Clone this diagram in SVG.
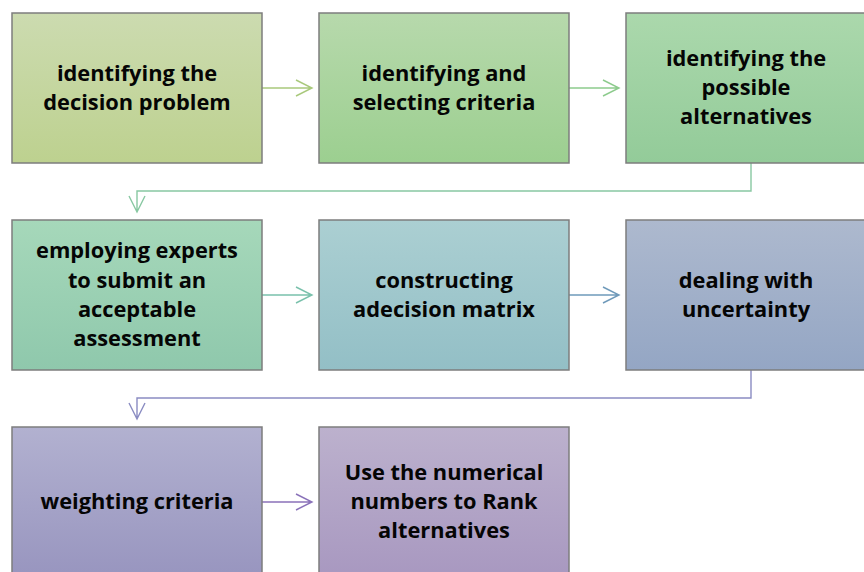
<svg xmlns="http://www.w3.org/2000/svg" width="864" height="572" viewBox="0 0 864 572">
<style>
.box{stroke:#7d7d7d;stroke-width:1.5}
.t{font-family:"Open Sans","Liberation Sans",sans-serif;font-weight:bold;font-size:21.8px;fill:#050505;text-anchor:middle}
.c{fill:none;stroke-width:1.4}
</style>
<defs>
<linearGradient id="g1" x1="0" y1="0" x2="0" y2="1"><stop offset="0" stop-color="#ccdbb0"/><stop offset="1" stop-color="#bdd18f"/></linearGradient>
<linearGradient id="g2" x1="0" y1="0" x2="0" y2="1"><stop offset="0" stop-color="#b7d9ac"/><stop offset="1" stop-color="#9ccf90"/></linearGradient>
<linearGradient id="g3" x1="0" y1="0" x2="0" y2="1"><stop offset="0" stop-color="#abd8ac"/><stop offset="1" stop-color="#93cb99"/></linearGradient>
<linearGradient id="g4" x1="0" y1="0" x2="0" y2="1"><stop offset="0" stop-color="#a6d8ba"/><stop offset="1" stop-color="#8fc8ac"/></linearGradient>
<linearGradient id="g5" x1="0" y1="0" x2="0" y2="1"><stop offset="0" stop-color="#abcfd2"/><stop offset="1" stop-color="#93bfc6"/></linearGradient>
<linearGradient id="g6" x1="0" y1="0" x2="0" y2="1"><stop offset="0" stop-color="#adb9ce"/><stop offset="1" stop-color="#94a6c4"/></linearGradient>
<linearGradient id="g7" x1="0" y1="0" x2="0" y2="1"><stop offset="0" stop-color="#b2b1d0"/><stop offset="1" stop-color="#9895bf"/></linearGradient>
<linearGradient id="g8" x1="0" y1="0" x2="0" y2="1"><stop offset="0" stop-color="#bcb1cd"/><stop offset="1" stop-color="#a898c0"/></linearGradient>
</defs>
<g id="connectors">
<path class="c" stroke="#a9c97c" d="M262 88H312M296 80L312 88L296 96"/>
<path class="c" stroke="#8dcb8d" d="M569 88H619M603 80L619 88L603 96"/>
<path class="c" stroke="#88c8a2" d="M751 163V191H137V212M129 196L137 212L145 196"/>
<path class="c" stroke="#7ac1ac" d="M262 295H312M296 287L312 295L296 303"/>
<path class="c" stroke="#6f9aba" d="M569 295H619M603 287L619 295L603 303"/>
<path class="c" stroke="#8a8cc2" d="M751 370V398H137V419M129 403L137 419L145 403"/>
<path class="c" stroke="#8a72b9" d="M262 502H312M296 494L312 502L296 510"/>
</g>
<g id="n1"><rect class="box" x="12" y="13" width="250" height="150" fill="url(#g1)"/><text class="t" x="137" y="81">identifying the</text><text class="t" x="137" y="110">decision problem</text></g>
<g id="n2"><rect class="box" x="319" y="13" width="250" height="150" fill="url(#g2)"/><text class="t" x="444" y="81">identifying and</text><text class="t" x="444" y="110">selecting criteria</text></g>
<g id="n3"><rect class="box" x="626" y="13" width="250" height="150" fill="url(#g3)"/><text class="t" x="746" y="66">identifying the</text><text class="t" x="746" y="95">possible</text><text class="t" x="746" y="124">alternatives</text></g>
<g id="n4"><rect class="box" x="12" y="220" width="250" height="150" fill="url(#g4)"/><text class="t" x="137" y="258">employing experts</text><text class="t" x="137" y="288">to submit an</text><text class="t" x="137" y="317">acceptable</text><text class="t" x="137" y="346">assessment</text></g>
<g id="n5"><rect class="box" x="319" y="220" width="250" height="150" fill="url(#g5)"/><text class="t" x="444" y="288">constructing</text><text class="t" x="444" y="317">adecision matrix</text></g>
<g id="n6"><rect class="box" x="626" y="220" width="250" height="150" fill="url(#g6)"/><text class="t" x="746" y="288">dealing with</text><text class="t" x="746" y="317">uncertainty</text></g>
<g id="n7"><rect class="box" x="12" y="427" width="250" height="150" fill="url(#g7)"/><text class="t" x="137" y="509">weighting criteria</text></g>
<g id="n8"><rect class="box" x="319" y="427" width="250" height="150" fill="url(#g8)"/><text class="t" x="444" y="480">Use the numerical</text><text class="t" x="444" y="509">numbers to Rank</text><text class="t" x="444" y="538">alternatives</text></g>
</svg>
